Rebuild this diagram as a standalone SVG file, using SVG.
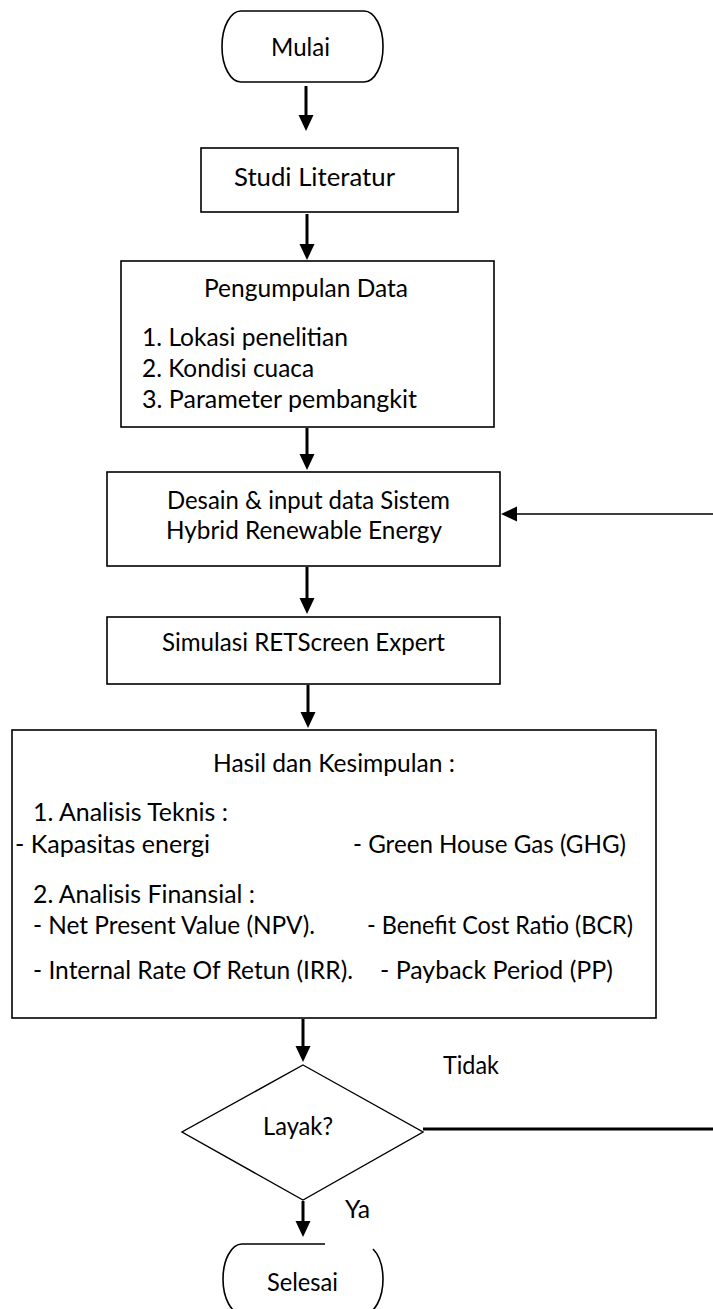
<svg xmlns="http://www.w3.org/2000/svg" width="713" height="1309" viewBox="0 0 713 1309">
<style>
  .box { fill: #fff; stroke: #000; stroke-width: 1.6; }
  .t { font-family: Lato, "Open Sans", "Liberation Sans", sans-serif; font-size: 25px; fill: #000; }
  .arrow { stroke: #000; stroke-width: 3; fill: none; marker-end: url(#ah); }
  .thin { stroke: #000; stroke-width: 1.5; fill: none; marker-end: url(#ah); }
  .plain { stroke: #000; stroke-width: 3; fill: none; }
</style>
<defs>
  <marker id="ah" markerUnits="userSpaceOnUse" markerWidth="17" markerHeight="16" refX="8" refY="7.5" orient="auto" viewBox="0 0 17 16">
    <path d="M0,0 L16,7.5 L0,15 Z" fill="#000"/>
  </marker>
</defs>
<rect width="713" height="1309" fill="#fff"/>

<g id="connectors">
  <line class="arrow" x1="306" y1="86" x2="306" y2="123"/>
  <line class="arrow" x1="307" y1="214" x2="307" y2="252"/>
  <line class="arrow" x1="307" y1="428" x2="307" y2="462"/>
  <line class="arrow" x1="307" y1="567" x2="307" y2="606"/>
  <line class="arrow" x1="308" y1="685" x2="308" y2="720"/>
  <line class="arrow" x1="303" y1="1019" x2="303" y2="1054"/>
  <line class="arrow" x1="303" y1="1201" x2="303" y2="1229"/>
  <line class="thin" x1="713" y1="514" x2="509" y2="514"/>
  <line class="plain" x1="423" y1="1129" x2="713" y2="1129"/>
  <text class="t" x="443" y="1074" textLength="56" lengthAdjust="spacingAndGlyphs">Tidak</text>
  <text class="t" x="345" y="1218" textLength="25" lengthAdjust="spacingAndGlyphs">Ya</text>
</g>

<g id="mulai">
  <rect class="box" x="222" y="11" width="161" height="71" rx="19" ry="35"/>
  <text class="t" x="271" y="56" textLength="59" lengthAdjust="spacingAndGlyphs">Mulai</text>
</g>

<g id="studi">
  <rect class="box" x="201" y="148" width="257" height="64"/>
  <text class="t" x="234" y="186" textLength="161" lengthAdjust="spacingAndGlyphs">Studi Literatur</text>
</g>

<g id="pengumpulan">
  <rect class="box" x="121" y="261" width="373" height="166"/>
  <text class="t" x="204" y="297" textLength="204" lengthAdjust="spacingAndGlyphs">Pengumpulan Data</text>
  <text class="t" x="142" y="346" textLength="206" lengthAdjust="spacingAndGlyphs">1. Lokasi penelitian</text>
  <text class="t" x="142" y="377" textLength="172" lengthAdjust="spacingAndGlyphs">2. Kondisi cuaca</text>
  <text class="t" x="142" y="408" textLength="275" lengthAdjust="spacingAndGlyphs">3. Parameter pembangkit</text>
</g>

<g id="desain">
  <rect class="box" x="107" y="472" width="393" height="94"/>
  <text class="t" x="167" y="509" textLength="283" lengthAdjust="spacingAndGlyphs">Desain &amp; input data Sistem</text>
  <text class="t" x="166" y="539" textLength="276" lengthAdjust="spacingAndGlyphs">Hybrid Renewable Energy</text>
</g>

<g id="simulasi">
  <rect class="box" x="107" y="617" width="393" height="67"/>
  <text class="t" x="162" y="651" textLength="283" lengthAdjust="spacingAndGlyphs">Simulasi RETScreen Expert</text>
</g>

<g id="hasil">
  <rect class="box" x="12" y="730" width="644" height="288"/>
  <text class="t" x="213" y="772" textLength="242" lengthAdjust="spacingAndGlyphs">Hasil dan Kesimpulan :</text>
  <text class="t" x="33" y="821" textLength="195" lengthAdjust="spacingAndGlyphs">1. Analisis Teknis :</text>
  <text class="t" x="15" y="853" textLength="195" lengthAdjust="spacingAndGlyphs">- Kapasitas energi</text>
  <text class="t" x="353" y="853" textLength="273" lengthAdjust="spacingAndGlyphs">- Green House Gas (GHG)</text>
  <text class="t" x="33" y="903" textLength="222" lengthAdjust="spacingAndGlyphs">2. Analisis Finansial :</text>
  <text class="t" x="33" y="934" textLength="282" lengthAdjust="spacingAndGlyphs">- Net Present Value (NPV).</text>
  <text class="t" x="367" y="934" textLength="266" lengthAdjust="spacingAndGlyphs">- Benefit Cost Ratio (BCR)</text>
  <text class="t" x="33" y="979" textLength="320" lengthAdjust="spacingAndGlyphs">- Internal Rate Of Retun (IRR).</text>
  <text class="t" x="380" y="979" textLength="233" lengthAdjust="spacingAndGlyphs">- Payback Period (PP)</text>
</g>

<g id="layak">
  <polygon class="box" style="stroke-width:1.4" points="303,1065 423,1132 303,1200 182,1132"/>
  <text class="t" x="263" y="1135" textLength="70" lengthAdjust="spacingAndGlyphs">Layak?</text>
</g>

<g id="selesai">
  <path class="box" d="M325,1244 H242 A19,35 0 0 0 223,1279 A19,35 0 0 0 242,1314 H364 A19,35 0 0 0 383,1279 A19,35 0 0 0 373,1249"/>
  <text class="t" x="267" y="1291" textLength="71" lengthAdjust="spacingAndGlyphs">Selesai</text>
</g>
</svg>
